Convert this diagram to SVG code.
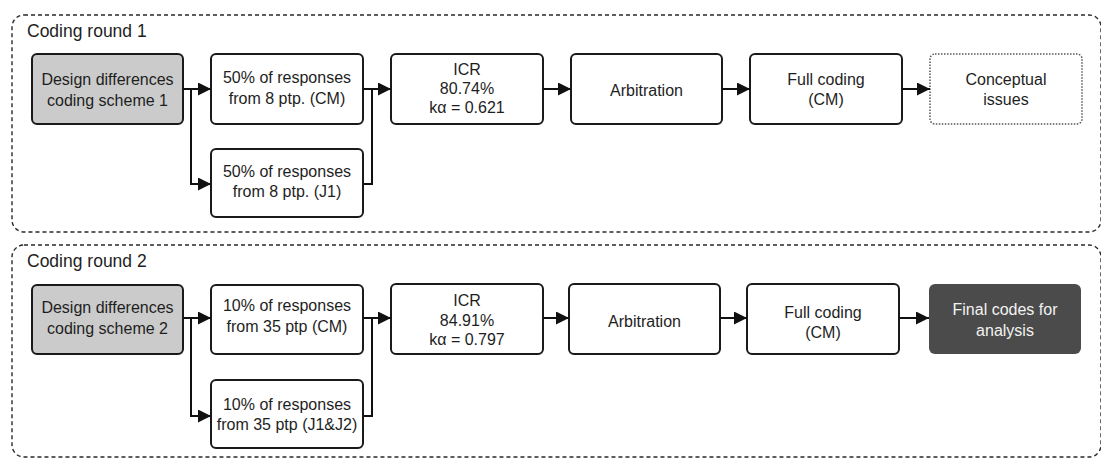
<svg xmlns="http://www.w3.org/2000/svg" width="1101" height="458" viewBox="0 0 1101 458">
  <style>
    text { font-family: "Liberation Sans", Arial, sans-serif; font-size: 16px; fill: #1e1e1e; text-anchor: middle; }
    .title { font-size: 17.5px; text-anchor: start; }
    .frame { fill: none; stroke: #2a2a2a; stroke-width: 1.4; stroke-dasharray: 4 3; }
    .box { fill: #ffffff; stroke: #1a1a1a; stroke-width: 2; }
    .start { fill: #cbcbcb; stroke: #1a1a1a; stroke-width: 2; }
    .dotted { fill: #ffffff; stroke: #555555; stroke-width: 1.5; stroke-dasharray: 1.5 1.5; }
    .final { fill: #4b4b4b; stroke: none; }
    .final-text { fill: #f2f2f2; }
    .link { fill: none; stroke: #111111; stroke-width: 2; }
  </style>
  <defs>
    <marker id="arrow" viewBox="0 0 13 13" refX="13" refY="6.5" markerWidth="13" markerHeight="13" markerUnits="userSpaceOnUse" orient="auto">
      <path d="M0,0 L13,6.5 L0,13 Z" fill="#111111"/>
    </marker>
  </defs>

  <!-- Round frames -->
  <g id="round1">
    <rect class="frame" x="12" y="15" width="1089" height="217" rx="12"/>
    <text class="title" x="27" y="37">Coding round 1</text>
  </g>
  <g id="round2">
    <rect class="frame" x="12" y="245" width="1089" height="212" rx="12"/>
    <text class="title" x="27" y="267">Coding round 2</text>
  </g>

  <!-- Round 1 nodes -->
  <g id="r1-scheme">
    <rect class="start" x="32" y="54" width="151" height="70" rx="5"/>
    <text x="107.5" y="85">Design differences</text>
    <text x="107.5" y="106">coding scheme 1</text>
  </g>
  <g id="r1-cm">
    <rect class="box" x="211" y="54" width="152" height="70" rx="5"/>
    <text x="287" y="83">50% of responses</text>
    <text x="287" y="104">from 8 ptp. (CM)</text>
  </g>
  <g id="r1-j1">
    <rect class="box" x="211" y="149" width="152" height="68" rx="5"/>
    <text x="287" y="177">50% of responses</text>
    <text x="287" y="197">from 8 ptp. (J1)</text>
  </g>
  <g id="r1-icr">
    <rect class="box" x="391" y="54" width="152" height="70" rx="5"/>
    <text x="467" y="75">ICR</text>
    <text x="467" y="94">80.74%</text>
    <text x="467" y="113">kα = 0.621</text>
  </g>
  <g id="r1-arbitration">
    <rect class="box" x="571" y="54" width="151" height="70" rx="5"/>
    <text x="646.5" y="96">Arbitration</text>
  </g>
  <g id="r1-full">
    <rect class="box" x="750" y="54" width="152" height="70" rx="5"/>
    <text x="826" y="85">Full coding</text>
    <text x="826" y="105">(CM)</text>
  </g>
  <g id="r1-issues">
    <rect class="dotted" x="930" y="54" width="152" height="70" rx="5"/>
    <text x="1006" y="85">Conceptual</text>
    <text x="1006" y="105">issues</text>
  </g>

  <!-- Round 2 nodes -->
  <g id="r2-scheme">
    <rect class="start" x="32" y="285" width="151" height="69" rx="5"/>
    <text x="107.5" y="313">Design differences</text>
    <text x="107.5" y="334">coding scheme 2</text>
  </g>
  <g id="r2-cm">
    <rect class="box" x="211" y="285" width="152" height="69" rx="5"/>
    <text x="287" y="311">10% of responses</text>
    <text x="287" y="332">from 35 ptp (CM)</text>
  </g>
  <g id="r2-j1j2">
    <rect class="box" x="211" y="380" width="152" height="68" rx="5"/>
    <text x="287" y="410">10% of responses</text>
    <text x="287" y="430">from 35 ptp (J1&amp;J2)</text>
  </g>
  <g id="r2-icr">
    <rect class="box" x="391" y="284" width="152" height="70" rx="5"/>
    <text x="467" y="306">ICR</text>
    <text x="467" y="326">84.91%</text>
    <text x="467" y="345">kα = 0.797</text>
  </g>
  <g id="r2-arbitration">
    <rect class="box" x="569" y="284" width="151" height="70" rx="5"/>
    <text x="644.5" y="327">Arbitration</text>
  </g>
  <g id="r2-full">
    <rect class="box" x="747" y="284" width="152" height="70" rx="5"/>
    <text x="823" y="318">Full coding</text>
    <text x="823" y="338">(CM)</text>
  </g>
  <g id="r2-final">
    <rect class="final" x="929" y="284" width="152" height="70" rx="6"/>
    <text class="final-text" x="1005" y="315">Final codes for</text>
    <text class="final-text" x="1005" y="336">analysis</text>
  </g>

  <!-- Connectors -->
  <g id="connectors">
    <path class="link" d="M183,89 H211" marker-end="url(#arrow)"/>
    <path class="link" d="M191,89 V184 H211" marker-end="url(#arrow)"/>
    <path class="link" d="M363,89 H391" marker-end="url(#arrow)"/>
    <path class="link" d="M363,184 H372 V89"/>
    <path class="link" d="M543,89 H571" marker-end="url(#arrow)"/>
    <path class="link" d="M722,89 H750" marker-end="url(#arrow)"/>
    <path class="link" d="M902,89 H930" marker-end="url(#arrow)"/>

    <path class="link" d="M183,318 H211" marker-end="url(#arrow)"/>
    <path class="link" d="M191,318 V416 H211" marker-end="url(#arrow)"/>
    <path class="link" d="M363,318 H391" marker-end="url(#arrow)"/>
    <path class="link" d="M363,416 H372 V318"/>
    <path class="link" d="M543,318 H569" marker-end="url(#arrow)"/>
    <path class="link" d="M720,318 H747" marker-end="url(#arrow)"/>
    <path class="link" d="M899,318 H929" marker-end="url(#arrow)"/>
  </g>
</svg>
